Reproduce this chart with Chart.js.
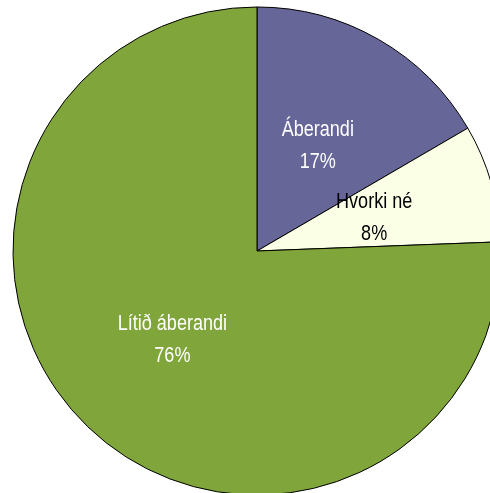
<!DOCTYPE html>
<html>
<head>
<meta charset="utf-8">
<script src="https://cdn.jsdelivr.net/npm/chart.js@4"></script>
<style>
html,body{margin:0;padding:0;background:#fff;overflow:hidden;width:490px;height:493px;}
#wrap{position:absolute;left:0;top:0;width:514px;height:502px;}
</style>
</head>
<body>
<div id="wrap"><canvas id="c" width="514" height="502"></canvas></div>
<script>
const categories = ["Áberandi", "Hvorki né", "Lítið áberandi"];
const values = [16.6, 7.8, 75.6];
const percentLabels = ["17%", "8%", "76%"];
const sliceColors = ["#666699", "#FAFFE6", "#80A63B"];
const labelColors = ["#FFFFFF", "#000000", "#FFFFFF"];

const labelPlugin = {
  id: 'sliceLabels',
  afterDatasetsDraw(chart) {
    const ctx = chart.ctx;
    const meta = chart.getDatasetMeta(0);
    const sx = 0.82;
    meta.data.forEach((arc, i) => {
      const p = arc.getCenterPoint();
      ctx.save();
      ctx.font = '22px "Liberation Sans Narrow", "Arial Narrow", "Liberation Sans", sans-serif';
      ctx.textAlign = 'center';
      ctx.textBaseline = 'middle';
      ctx.translate(p.x, p.y + 1);
      ctx.scale(sx, 1);
      ctx.fillStyle = labelColors[i];
      ctx.fillText(categories[i], 0, -16);
      ctx.fillText(percentLabels[i], 0, 16);
      ctx.restore();
    });
  }
};

new Chart(document.getElementById('c'), {
  type: 'pie',
  data: {
    labels: categories,
    datasets: [{
      data: values,
      backgroundColor: sliceColors,
      borderColor: '#000000',
      borderWidth: 1,
      radius: 244
    }]
  },
  options: {
    responsive: false,
    devicePixelRatio: 1,
    animation: false,
    layout: { padding: 0 },
    plugins: { legend: { display: false }, tooltip: { enabled: false } }
  },
  plugins: [labelPlugin]
});
</script>
</body>
</html>
